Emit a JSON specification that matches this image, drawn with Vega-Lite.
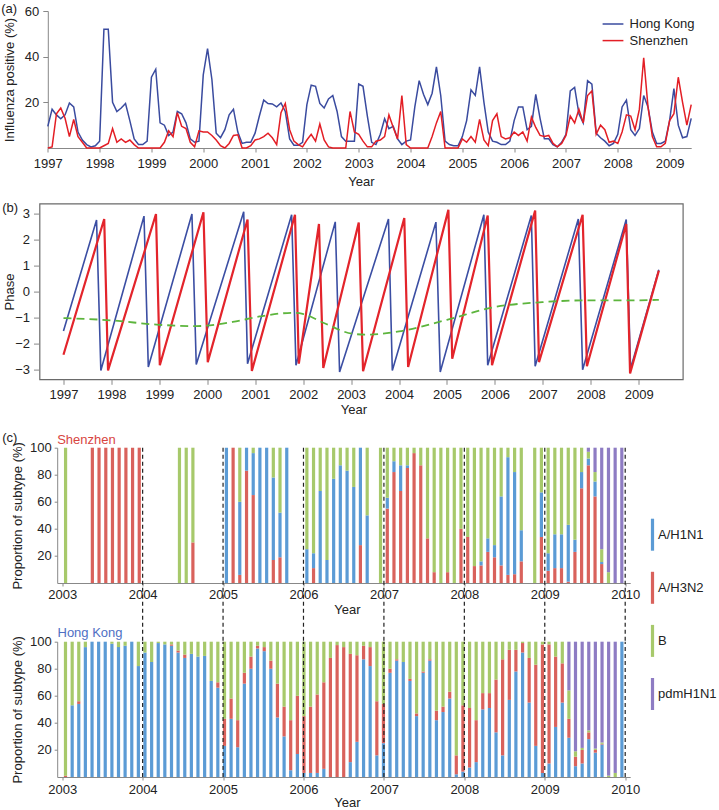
{
"$schema": "https://vega.github.io/schema/vega-lite/v6.json",
"padding": {"left": 0.5, "top": 3, "right": 0, "bottom": 0},
"config": {
  "font": "Liberation Sans",
  "view": {"stroke": null},
  "axis": {"grid": false, "labelOverlap": false, "labelFontSize": 13, "titleFontSize": 13, "titleFontWeight": "normal", "labelColor": "#222", "titleColor": "#222", "domainColor": "#888", "tickColor": "#888", "labelFont": "Liberation Sans", "titleFont": "Liberation Sans"},
  "legend": {"labelFontSize": 13, "labelColor": "#222", "labelFont": "Liberation Sans"},
  "title": {"fontSize": 13, "fontWeight": "normal", "font": "Liberation Sans", "color": "#222"}
},
"datasets": {
  "pos": [
    {"t":1997,"Hong Kong":9.5,"Shenzhen":0},{"t":1997.083,"Hong Kong":17,"Shenzhen":0.5},{"t":1997.167,"Hong Kong":14.5,"Shenzhen":15},{"t":1997.25,"Hong Kong":12.8,"Shenzhen":17.5},{"t":1997.333,"Hong Kong":14.5,"Shenzhen":13},{"t":1997.417,"Hong Kong":19.7,"Shenzhen":5},{"t":1997.5,"Hong Kong":18,"Shenzhen":12.5},{"t":1997.583,"Hong Kong":7,"Shenzhen":5},{"t":1997.667,"Hong Kong":3.5,"Shenzhen":2.5},{"t":1997.75,"Hong Kong":1.5,"Shenzhen":0},{"t":1997.833,"Hong Kong":0.5,"Shenzhen":0},{"t":1997.917,"Hong Kong":1,"Shenzhen":0},
    {"t":1998,"Hong Kong":3,"Shenzhen":0},{"t":1998.083,"Hong Kong":52,"Shenzhen":1},{"t":1998.167,"Hong Kong":52,"Shenzhen":2},{"t":1998.25,"Hong Kong":20,"Shenzhen":8.5},{"t":1998.333,"Hong Kong":16,"Shenzhen":2.5},{"t":1998.417,"Hong Kong":17.5,"Shenzhen":4},{"t":1998.5,"Hong Kong":19.5,"Shenzhen":2.5},{"t":1998.583,"Hong Kong":12,"Shenzhen":3.5},{"t":1998.667,"Hong Kong":4,"Shenzhen":1.5},{"t":1998.75,"Hong Kong":1.5,"Shenzhen":0},{"t":1998.833,"Hong Kong":1.5,"Shenzhen":0},{"t":1998.917,"Hong Kong":3,"Shenzhen":0},
    {"t":1999,"Hong Kong":31,"Shenzhen":0},{"t":1999.083,"Hong Kong":34.5,"Shenzhen":0},{"t":1999.167,"Hong Kong":11,"Shenzhen":0},{"t":1999.25,"Hong Kong":10,"Shenzhen":2.5},{"t":1999.333,"Hong Kong":5.5,"Shenzhen":7.5},{"t":1999.417,"Hong Kong":7,"Shenzhen":5},{"t":1999.5,"Hong Kong":16,"Shenzhen":15.5},{"t":1999.583,"Hong Kong":15,"Shenzhen":9.5},{"t":1999.667,"Hong Kong":11,"Shenzhen":8.5},{"t":1999.75,"Hong Kong":4,"Shenzhen":2.5},{"t":1999.833,"Hong Kong":2.5,"Shenzhen":0.5},{"t":1999.917,"Hong Kong":3,"Shenzhen":7.5},
    {"t":2000,"Hong Kong":32,"Shenzhen":7},{"t":2000.083,"Hong Kong":43.5,"Shenzhen":7},{"t":2000.167,"Hong Kong":30,"Shenzhen":5.5},{"t":2000.25,"Hong Kong":6.5,"Shenzhen":3.5},{"t":2000.333,"Hong Kong":4.5,"Shenzhen":1},{"t":2000.417,"Hong Kong":8,"Shenzhen":0},{"t":2000.5,"Hong Kong":14.5,"Shenzhen":2},{"t":2000.583,"Hong Kong":17,"Shenzhen":5.5},{"t":2000.667,"Hong Kong":7,"Shenzhen":5.8},{"t":2000.75,"Hong Kong":2,"Shenzhen":0},{"t":2000.833,"Hong Kong":2.5,"Shenzhen":0},{"t":2000.917,"Hong Kong":2.5,"Shenzhen":1},
    {"t":2001,"Hong Kong":6.5,"Shenzhen":3.5},{"t":2001.083,"Hong Kong":14,"Shenzhen":4},{"t":2001.167,"Hong Kong":21,"Shenzhen":5},{"t":2001.25,"Hong Kong":19.5,"Shenzhen":6.5},{"t":2001.333,"Hong Kong":19.3,"Shenzhen":4.5},{"t":2001.417,"Hong Kong":18,"Shenzhen":1.5},{"t":2001.5,"Hong Kong":19.7,"Shenzhen":15.5},{"t":2001.583,"Hong Kong":16,"Shenzhen":19.5},{"t":2001.667,"Hong Kong":4,"Shenzhen":8},{"t":2001.75,"Hong Kong":1.2,"Shenzhen":3},{"t":2001.833,"Hong Kong":1.2,"Shenzhen":1.5},{"t":2001.917,"Hong Kong":2.5,"Shenzhen":0.5},
    {"t":2002,"Hong Kong":19,"Shenzhen":3.5},{"t":2002.083,"Hong Kong":27.5,"Shenzhen":6},{"t":2002.167,"Hong Kong":27,"Shenzhen":3},{"t":2002.25,"Hong Kong":19.5,"Shenzhen":10.5},{"t":2002.333,"Hong Kong":17.5,"Shenzhen":3.5},{"t":2002.417,"Hong Kong":21.5,"Shenzhen":0.5},{"t":2002.5,"Hong Kong":23,"Shenzhen":0},{"t":2002.583,"Hong Kong":16,"Shenzhen":0},{"t":2002.667,"Hong Kong":5,"Shenzhen":0},{"t":2002.75,"Hong Kong":3,"Shenzhen":0},{"t":2002.833,"Hong Kong":3,"Shenzhen":16},{"t":2002.917,"Hong Kong":3,"Shenzhen":7},
    {"t":2003,"Hong Kong":28,"Shenzhen":6},{"t":2003.083,"Hong Kong":27,"Shenzhen":3},{"t":2003.167,"Hong Kong":14,"Shenzhen":0.5},{"t":2003.25,"Hong Kong":2.5,"Shenzhen":0.5},{"t":2003.333,"Hong Kong":1.5,"Shenzhen":3},{"t":2003.417,"Hong Kong":6,"Shenzhen":3.5},{"t":2003.5,"Hong Kong":12.8,"Shenzhen":5},{"t":2003.583,"Hong Kong":8.5,"Shenzhen":14.5},{"t":2003.667,"Hong Kong":9.5,"Shenzhen":9},{"t":2003.75,"Hong Kong":4,"Shenzhen":4},{"t":2003.833,"Hong Kong":1.5,"Shenzhen":23},{"t":2003.917,"Hong Kong":3,"Shenzhen":1.5},
    {"t":2004,"Hong Kong":3.5,"Shenzhen":0},{"t":2004.083,"Hong Kong":18,"Shenzhen":0},{"t":2004.167,"Hong Kong":29.5,"Shenzhen":0},{"t":2004.25,"Hong Kong":23.5,"Shenzhen":0},{"t":2004.333,"Hong Kong":19,"Shenzhen":0},{"t":2004.417,"Hong Kong":24,"Shenzhen":5},{"t":2004.5,"Hong Kong":35.5,"Shenzhen":11},{"t":2004.583,"Hong Kong":23,"Shenzhen":16},{"t":2004.667,"Hong Kong":3,"Shenzhen":0},{"t":2004.75,"Hong Kong":1.5,"Shenzhen":0},{"t":2004.833,"Hong Kong":1,"Shenzhen":0},{"t":2004.917,"Hong Kong":1,"Shenzhen":0},
    {"t":2005,"Hong Kong":5,"Shenzhen":4},{"t":2005.083,"Hong Kong":12,"Shenzhen":2.5},{"t":2005.167,"Hong Kong":25.5,"Shenzhen":5},{"t":2005.25,"Hong Kong":23,"Shenzhen":2.5},{"t":2005.333,"Hong Kong":35.5,"Shenzhen":12.5},{"t":2005.417,"Hong Kong":20,"Shenzhen":3.5},{"t":2005.5,"Hong Kong":7,"Shenzhen":1},{"t":2005.583,"Hong Kong":3,"Shenzhen":12},{"t":2005.667,"Hong Kong":2.5,"Shenzhen":15},{"t":2005.75,"Hong Kong":1.5,"Shenzhen":5},{"t":2005.833,"Hong Kong":1.5,"Shenzhen":4},{"t":2005.917,"Hong Kong":3,"Shenzhen":4.5},
    {"t":2006,"Hong Kong":12,"Shenzhen":7},{"t":2006.083,"Hong Kong":18,"Shenzhen":5.5},{"t":2006.167,"Hong Kong":18,"Shenzhen":7},{"t":2006.25,"Hong Kong":8,"Shenzhen":3},{"t":2006.333,"Hong Kong":9.5,"Shenzhen":13.5},{"t":2006.417,"Hong Kong":23.5,"Shenzhen":9},{"t":2006.5,"Hong Kong":13,"Shenzhen":5.5},{"t":2006.583,"Hong Kong":4,"Shenzhen":5},{"t":2006.667,"Hong Kong":4,"Shenzhen":5.5},{"t":2006.75,"Hong Kong":1.5,"Shenzhen":2},{"t":2006.833,"Hong Kong":0.5,"Shenzhen":0.5},{"t":2006.917,"Hong Kong":2.5,"Shenzhen":2},
    {"t":2007,"Hong Kong":6,"Shenzhen":5.5},{"t":2007.083,"Hong Kong":25,"Shenzhen":14},{"t":2007.167,"Hong Kong":26.5,"Shenzhen":11},{"t":2007.25,"Hong Kong":15,"Shenzhen":17},{"t":2007.333,"Hong Kong":11,"Shenzhen":11},{"t":2007.417,"Hong Kong":29.5,"Shenzhen":23},{"t":2007.5,"Hong Kong":28,"Shenzhen":25},{"t":2007.583,"Hong Kong":6.5,"Shenzhen":6},{"t":2007.667,"Hong Kong":4.5,"Shenzhen":10},{"t":2007.75,"Hong Kong":3,"Shenzhen":8},{"t":2007.833,"Hong Kong":1,"Shenzhen":2.5},{"t":2007.917,"Hong Kong":2,"Shenzhen":3},
    {"t":2008,"Hong Kong":6,"Shenzhen":2},{"t":2008.083,"Hong Kong":18,"Shenzhen":7},{"t":2008.167,"Hong Kong":21,"Shenzhen":14.5},{"t":2008.25,"Hong Kong":8,"Shenzhen":14},{"t":2008.333,"Hong Kong":5.5,"Shenzhen":8},{"t":2008.417,"Hong Kong":8.5,"Shenzhen":17},{"t":2008.5,"Hong Kong":23,"Shenzhen":39.5},{"t":2008.583,"Hong Kong":18,"Shenzhen":18},{"t":2008.667,"Hong Kong":7,"Shenzhen":5},{"t":2008.75,"Hong Kong":2,"Shenzhen":0.5},{"t":2008.833,"Hong Kong":2,"Shenzhen":0.5},{"t":2008.917,"Hong Kong":3,"Shenzhen":2},
    {"t":2009,"Hong Kong":12,"Shenzhen":12},{"t":2009.083,"Hong Kong":26,"Shenzhen":15},{"t":2009.167,"Hong Kong":10,"Shenzhen":31},{"t":2009.25,"Hong Kong":4.5,"Shenzhen":20},{"t":2009.333,"Hong Kong":5,"Shenzhen":10},{"t":2009.417,"Hong Kong":13,"Shenzhen":19}
  ],
  "years": [{"t":1997},{"t":1998},{"t":1999},{"t":2000},{"t":2001},{"t":2002},{"t":2003},{"t":2004},{"t":2005},{"t":2006},{"t":2007},{"t":2008},{"t":2009}],
  "yearsC": [{"t":2004},{"t":2005},{"t":2006},{"t":2007},{"t":2008},{"t":2009},{"t":2010}],
  "phk": [
    {"t":1997,"p":-1.52},{"t":1997.69,"p":2.74},{"t":1997.78,"p":-3.03},{"t":1998.68,"p":2.89},{"t":1998.77,"p":-2.9},{"t":1999.68,"p":2.97},{"t":1999.77,"p":-2.8},{"t":2000.76,"p":3.06},{"t":2000.84,"p":-2.77},{"t":2001.76,"p":2.94},{"t":2001.85,"p":-2.83},{"t":2002.67,"p":2.67},{"t":2002.76,"p":-3.09},{"t":2003.78,"p":2.78},{"t":2003.86,"p":-3.03},{"t":2004.77,"p":2.66},{"t":2004.86,"p":-3.09},{"t":2005.77,"p":2.94},{"t":2005.85,"p":-2.83},{"t":2006.76,"p":2.91},{"t":2006.84,"p":-2.87},{"t":2007.74,"p":2.78},{"t":2007.83,"p":-3.0},{"t":2008.74,"p":2.76},{"t":2008.83,"p":-2.96},{"t":2009.42,"p":0.83}
  ],
  "psz": [
    {"t":1997,"p":-2.43},{"t":1997.85,"p":2.78},{"t":1997.93,"p":-3.03},{"t":1998.93,"p":2.97},{"t":1999.01,"p":-2.83},{"t":1999.92,"p":3.04},{"t":2000.01,"p":-2.71},{"t":2000.84,"p":2.76},{"t":2000.93,"p":-3.05},{"t":2001.83,"p":2.94},{"t":2001.91,"p":-2.77},{"t":2002.33,"p":2.59},{"t":2002.42,"p":-2.94},{"t":2003.16,"p":2.64},{"t":2003.25,"p":-3.06},{"t":2004.11,"p":2.82},{"t":2004.19,"p":-2.9},{"t":2005.03,"p":3.13},{"t":2005.11,"p":-2.58},{"t":2005.85,"p":2.91},{"t":2005.94,"p":-2.83},{"t":2006.84,"p":3.1},{"t":2006.92,"p":-2.71},{"t":2007.83,"p":2.94},{"t":2007.92,"p":-2.87},{"t":2008.74,"p":2.59},{"t":2008.82,"p":-3.15},{"t":2009.42,"p":0.8}
  ],
  "ptrend": [
    {"t":1997,"p":-1.02},{"t":1998,"p":-1.11},{"t":1999,"p":-1.28},{"t":1999.77,"p":-1.33},{"t":2000.53,"p":-1.17},{"t":2001.09,"p":-0.96},{"t":2001.78,"p":-0.82},{"t":2001.99,"p":-0.86},{"t":2002.47,"p":-1.24},{"t":2003.02,"p":-1.62},{"t":2003.33,"p":-1.66},{"t":2004,"p":-1.53},{"t":2005,"p":-1.09},{"t":2005.99,"p":-0.6},{"t":2006.99,"p":-0.41},{"t":2007.97,"p":-0.34},{"t":2008.97,"p":-0.34},{"t":2009.42,"p":-0.32}
  ],
  "sz": [
    {"t":2003.042,"c_B":100},
    {"t":2003.375,"a_H3N2":100},{"t":2003.458,"a_H3N2":100},{"t":2003.542,"a_H3N2":100},{"t":2003.625,"a_H3N2":100},{"t":2003.708,"a_H3N2":100},{"t":2003.792,"a_H3N2":100},{"t":2003.875,"a_H3N2":100},{"t":2003.958,"a_H3N2":100},
    {"t":2004.458,"c_B":100},{"t":2004.542,"c_B":100},{"t":2004.625,"a_H3N2":30,"c_B":70},
    {"t":2005.042,"b_H1N1":100},{"t":2005.125,"a_H3N2":100},{"t":2005.208,"a_H3N2":6,"b_H1N1":54,"c_B":40},{"t":2005.292,"a_H3N2":83,"b_H1N1":17},{"t":2005.375,"a_H3N2":65,"b_H1N1":31,"c_B":4},{"t":2005.458,"b_H1N1":100},{"t":2005.542,"b_H1N1":100},{"t":2005.625,"a_H3N2":17,"b_H1N1":61,"c_B":22},{"t":2005.708,"a_H3N2":19,"b_H1N1":33,"c_B":48},{"t":2005.792,"b_H1N1":100},
    {"t":2006.042,"b_H1N1":25,"c_B":75},{"t":2006.125,"a_H3N2":11,"b_H1N1":11,"c_B":78},{"t":2006.208,"b_H1N1":68,"c_B":32},{"t":2006.292,"b_H1N1":17,"c_B":83},{"t":2006.375,"b_H1N1":77,"c_B":23},{"t":2006.458,"b_H1N1":87,"c_B":13},{"t":2006.542,"b_H1N1":83,"c_B":17},{"t":2006.625,"b_H1N1":71,"c_B":29},{"t":2006.708,"a_H3N2":28,"b_H1N1":72},{"t":2006.792,"b_H1N1":50,"c_B":50},{"t":2006.958,"c_B":100},
    {"t":2007.042,"a_H3N2":55,"b_H1N1":8,"c_B":37},{"t":2007.125,"a_H3N2":82,"b_H1N1":8,"c_B":10},{"t":2007.208,"a_H3N2":68,"b_H1N1":19,"c_B":13},{"t":2007.292,"a_H3N2":85,"b_H1N1":2,"c_B":13},{"t":2007.375,"a_H3N2":96,"c_B":4},{"t":2007.458,"a_H3N2":87,"c_B":13},{"t":2007.542,"a_H3N2":33,"c_B":67},{"t":2007.625,"a_H3N2":8,"c_B":92},{"t":2007.708,"c_B":100},{"t":2007.792,"a_H3N2":8,"c_B":92},{"t":2007.875,"c_B":100},{"t":2007.958,"a_H3N2":40,"c_B":60},
    {"t":2008.042,"a_H3N2":34,"c_B":66},{"t":2008.125,"a_H3N2":12.5,"c_B":87.5},{"t":2008.208,"a_H3N2":13,"b_H1N1":3,"c_B":84},{"t":2008.292,"a_H3N2":23,"b_H1N1":10,"c_B":67},{"t":2008.375,"a_H3N2":19,"b_H1N1":9,"c_B":72},{"t":2008.458,"a_H3N2":13,"b_H1N1":51,"c_B":36},{"t":2008.542,"a_H3N2":6,"b_H1N1":87,"c_B":7},{"t":2008.625,"a_H3N2":6.5,"b_H1N1":75.5,"c_B":18},{"t":2008.708,"a_H3N2":16,"b_H1N1":23,"c_B":61},{"t":2008.875,"c_B":100},{"t":2008.958,"a_H3N2":34,"b_H1N1":33,"c_B":33},
    {"t":2009.042,"a_H3N2":9,"b_H1N1":13,"c_B":78},{"t":2009.125,"a_H3N2":11,"b_H1N1":25,"c_B":64},{"t":2009.208,"a_H3N2":11,"b_H1N1":25,"c_B":64},{"t":2009.292,"a_H3N2":1,"b_H1N1":42,"c_B":57},{"t":2009.375,"a_H3N2":23,"b_H1N1":9,"c_B":68},{"t":2009.458,"a_H3N2":70,"b_H1N1":12,"c_B":18},{"t":2009.542,"a_H3N2":87,"b_H1N1":5,"c_B":5,"d_pdmH1N1":3},{"t":2009.625,"a_H3N2":64,"b_H1N1":11,"c_B":7,"d_pdmH1N1":18},{"t":2009.708,"a_H3N2":14,"b_H1N1":1.5,"c_B":9.5,"d_pdmH1N1":75},{"t":2009.792,"c_B":8,"d_pdmH1N1":92},{"t":2009.875,"d_pdmH1N1":100},{"t":2009.958,"d_pdmH1N1":100}
  ],
  "hk": [
    {"t":2003.041,"A/H3N2":1,"B":99},{"t":2003.124,"A/H1N1":53,"B":47},{"t":2003.206,"A/H1N1":54,"A/H3N2":2,"B":44},{"t":2003.288,"A/H1N1":96,"B":4},{"t":2003.371,"A/H1N1":100},{"t":2003.453,"A/H1N1":100},{"t":2003.535,"A/H1N1":100},{"t":2003.618,"A/H1N1":98.5,"B":1.5},{"t":2003.7,"A/H1N1":96,"B":4},{"t":2003.782,"A/H1N1":97,"B":3},{"t":2003.865,"A/H1N1":100},{"t":2003.947,"A/H1N1":82,"B":18},
    {"t":2004.029,"A/H1N1":92,"B":8},{"t":2004.112,"A/H1N1":85,"B":15},{"t":2004.194,"A/H1N1":99,"B":1},{"t":2004.276,"A/H1N1":98,"B":2},{"t":2004.359,"A/H1N1":97,"A/H3N2":1,"B":2},{"t":2004.441,"A/H1N1":92,"A/H3N2":1.5,"B":6.5},{"t":2004.524,"A/H1N1":88,"A/H3N2":2.5,"B":9.5},{"t":2004.606,"A/H1N1":91,"B":9},{"t":2004.688,"A/H1N1":89,"B":11},{"t":2004.771,"A/H1N1":89.5,"B":10.5},{"t":2004.853,"A/H1N1":71,"B":29},{"t":2004.935,"A/H1N1":66,"A/H3N2":4,"B":30},
    {"t":2005.018,"A/H1N1":23,"A/H3N2":20,"B":57},{"t":2005.1,"A/H1N1":43,"A/H3N2":15,"B":42},{"t":2005.182,"A/H1N1":22,"A/H3N2":20,"B":58},{"t":2005.265,"A/H1N1":69,"A/H3N2":8,"B":23},{"t":2005.347,"A/H1N1":80,"A/H3N2":9,"B":11},{"t":2005.429,"A/H1N1":95,"A/H3N2":2,"B":3},{"t":2005.512,"A/H1N1":93,"A/H3N2":3,"B":4},{"t":2005.594,"A/H1N1":80,"A/H3N2":6,"B":14},{"t":2005.676,"A/H1N1":44,"A/H3N2":25,"B":31},{"t":2005.759,"A/H1N1":30,"A/H3N2":22,"B":48},{"t":2005.841,"A/H1N1":5,"A/H3N2":37,"B":58},{"t":2005.924,"A/H1N1":17,"A/H3N2":43,"B":40},
    {"t":2006.006,"A/H1N1":3,"A/H3N2":42,"B":55},{"t":2006.088,"A/H1N1":3,"A/H3N2":49,"B":48},{"t":2006.171,"A/H1N1":3,"A/H3N2":58,"B":39},{"t":2006.253,"A/H1N1":6,"A/H3N2":64,"B":30},{"t":2006.335,"A/H3N2":88,"B":12},{"t":2006.418,"A/H3N2":97.5,"B":2.5},{"t":2006.5,"A/H3N2":96,"B":4},{"t":2006.582,"A/H1N1":11,"A/H3N2":80,"B":9},{"t":2006.665,"A/H1N1":26,"A/H3N2":64,"B":10},{"t":2006.747,"A/H1N1":87,"A/H3N2":10,"B":3},{"t":2006.829,"A/H1N1":82,"A/H3N2":14,"B":4},{"t":2006.912,"A/H1N1":16,"A/H3N2":40,"B":44},
    {"t":2006.994,"A/H1N1":25,"A/H3N2":29,"B":46},{"t":2007.076,"A/H1N1":77,"A/H3N2":3,"B":20},{"t":2007.159,"A/H1N1":86,"A/H3N2":1,"B":13},{"t":2007.241,"A/H1N1":85,"B":15},{"t":2007.324,"A/H1N1":71,"A/H3N2":1.5,"B":27.5},{"t":2007.406,"A/H1N1":45,"A/H3N2":2,"B":53},{"t":2007.488,"A/H1N1":77,"A/H3N2":1,"B":22},{"t":2007.571,"A/H1N1":86,"A/H3N2":1,"B":13},{"t":2007.653,"A/H1N1":42,"A/H3N2":7,"B":51},{"t":2007.735,"A/H1N1":48,"A/H3N2":4,"B":48},{"t":2007.818,"A/H1N1":58,"A/H3N2":5,"B":37},{"t":2007.9,"A/H1N1":2,"A/H3N2":14,"B":84},
    {"t":2007.982,"A/H1N1":4,"A/H3N2":49,"B":47},{"t":2008.065,"A/H1N1":7,"A/H3N2":44,"B":49},{"t":2008.147,"A/H1N1":11,"A/H3N2":31,"B":58},{"t":2008.229,"A/H1N1":50,"A/H3N2":12,"B":38},{"t":2008.312,"A/H1N1":51,"A/H3N2":11,"B":38},{"t":2008.394,"A/H1N1":33,"A/H3N2":39,"B":28},{"t":2008.476,"A/H1N1":16,"A/H3N2":71,"B":13},{"t":2008.559,"A/H1N1":57,"A/H3N2":37,"B":6},{"t":2008.641,"A/H1N1":78,"A/H3N2":16,"B":6},{"t":2008.724,"A/H1N1":92,"A/H3N2":7,"B":1},{"t":2008.806,"A/H1N1":55,"A/H3N2":33,"B":12},{"t":2008.888,"A/H1N1":23,"A/H3N2":60,"B":17},
    {"t":2008.971,"A/H1N1":3,"A/H3N2":95,"B":2},{"t":2009.053,"A/H1N1":10,"A/H3N2":88,"B":2},{"t":2009.135,"A/H1N1":37,"A/H3N2":52,"B":11},{"t":2009.218,"A/H1N1":55,"A/H3N2":29,"B":16},{"t":2009.3,"A/H1N1":29,"A/H3N2":14,"B":21,"pdmH1N1":36},{"t":2009.382,"A/H1N1":8,"A/H3N2":7,"B":4,"pdmH1N1":81},{"t":2009.465,"A/H1N1":10,"A/H3N2":10,"B":1.5,"pdmH1N1":78.5},{"t":2009.547,"A/H1N1":28,"A/H3N2":5,"B":1.5,"pdmH1N1":65.5},{"t":2009.629,"A/H1N1":18,"A/H3N2":2,"B":1,"pdmH1N1":79},{"t":2009.712,"A/H1N1":24,"A/H3N2":0.5,"B":1,"pdmH1N1":74.5},{"t":2009.794,"B":1,"pdmH1N1":99},{"t":2009.876,"B":3,"pdmH1N1":97},{"t":2009.959,"A/H1N1":100}
  ]
},
"spacing": 14.7,
"resolve": {"scale": {"color": "independent"}, "legend": {"color": "independent"}},
"vconcat": [
  {
    "bounds": "flush",
    "spacing": 55.6,
    "resolve": {"scale": {"color": "independent"}, "legend": {"color": "independent"}},
    "vconcat": [
      {
        "width": 651.7,
        "height": 137,
        "title": {"text": "(a)", "anchor": "start", "frame": "group", "orient": "top", "dx": -38.3, "dy": 21.1, "offset": 0, "baseline": "alphabetic"},
        "data": {"name": "pos"},
        "transform": [{"fold": ["Hong Kong", "Shenzhen"], "as": ["city", "pct"]}],
        "mark": {"type": "line", "strokeWidth": 1.5},
        "encoding": {
          "x": {"field": "t", "type": "quantitative", "scale": {"domain": [1997, 2009.4167], "range": [8.3, 651.7], "nice": false, "zero": false},
                "axis": {"values": [1997,1998,1999,2000,2001,2002,2003,2004,2005,2006,2007,2008,2009], "format": "d", "title": "Year", "tickSize": 4, "labelPadding": 5, "titlePadding": 5, "titleX": 321.5, "labelFlush": false, "labelOverlap": false}},
          "y": {"field": "pct", "type": "quantitative", "scale": {"domain": [0, 60], "nice": false},
                "axis": {"values": [20, 40, 60], "title": "Influenza positive (%)", "offset": -8.3, "tickSize": 5, "labelPadding": 4, "titlePadding": 7.7, "labelOverlap": false}},
          "color": {"field": "city", "type": "nominal", "scale": {"domain": ["Hong Kong", "Shenzhen"], "range": ["#3a4b9f", "#e31e25"]},
                    "legend": {"orient": "none", "legendX": 564.5, "legendY": 4, "title": null, "symbolType": "M-1.3,0H1.3", "symbolSize": 256, "symbolStrokeWidth": 1.5, "labelOffset": 7.5, "rowPadding": 0.6, "padding": 0}}
        }
      },
      {
        "width": 643.3,
        "height": 175.7,
        "view": {"stroke": "#6a6a6a", "strokeWidth": 1.2},
        "title": {"text": "(b)", "anchor": "start", "frame": "group", "orient": "top", "dx": -37.3, "dy": 21.1, "offset": 0, "baseline": "alphabetic"},
        "encoding": {
          "x": {"field": "t", "type": "quantitative", "scale": {"domain": [1996.5, 2009.92], "nice": false, "zero": false},
                "axis": {"values": [1997,1998,1999,2000,2001,2002,2003,2004,2005,2006,2007,2008,2009], "format": "d", "title": "Year", "domain": false, "tickSize": 5, "labelPadding": 4, "titlePadding": 2, "titleX": 314, "labelFlush": false, "labelOverlap": false}},
          "y": {"field": "p", "type": "quantitative", "scale": {"domain": [-3.37, 3.37], "nice": false, "zero": false},
                "axis": {"values": [-3,-2,-1,0,1,2,3], "title": "Phase", "domain": false, "tickSize": 6, "labelPadding": 4, "titlePadding": -1.5, "labelOverlap": false}}
        },
        "layer": [
          {"data": {"name": "years"}, "mark": {"type": "rule", "color": "#b5b5b5", "strokeWidth": 1.4, "strokeDash": [6, 4]},
           "encoding": {"y": {"datum": -3.37, "type": "quantitative"}, "y2": {"datum": 3.37}}},
          {"data": {"values": [{}]}, "mark": {"type": "rule", "color": "#b5b5b5", "strokeWidth": 1.4, "strokeDash": [6, 4]},
           "encoding": {"x": {"datum": 1997, "type": "quantitative"}, "x2": {"datum": 2009.42}, "y": {"datum": 0, "type": "quantitative"}}},
          {"data": {"name": "phk"}, "mark": {"type": "line", "color": "#3b4ea3", "strokeWidth": 1.6}, "encoding": {}},
          {"data": {"name": "psz"}, "mark": {"type": "line", "color": "#e3242b", "strokeWidth": 2.2}, "encoding": {}},
          {"data": {"name": "ptrend"}, "mark": {"type": "line", "color": "#5db53d", "strokeWidth": 1.8, "strokeDash": [8, 5], "interpolate": "monotone"}, "encoding": {}}
        ]
      }
    ]
  },
  {
    "bounds": "flush",
    "spacing": 58,
    "title": {"text": "(c)", "anchor": "start", "frame": "group", "orient": "top", "dx": -37.3, "dy": 20.9, "offset": 0, "baseline": "alphabetic"},
    "resolve": {"scale": {"color": "independent"}, "legend": {"color": "independent"}},
    "vconcat": [
      {
        "width": 590.7,
        "height": 135.3,
        "title": {"text": "Shenzhen", "color": "#d8453f", "anchor": "start", "frame": "group", "orient": "top", "dx": 17.7, "dy": 15.3, "offset": 0, "baseline": "alphabetic"},
        "layer": [
          {
            "data": {"name": "sz"},
            "transform": [{"fold": ["a_H3N2", "b_H1N1", "c_B", "d_pdmH1N1"], "as": ["k", "v"]}, {"filter": "datum.v > 0"}],
            "mark": {"type": "bar", "width": 3.2},
            "encoding": {
              "x": {"field": "t", "type": "quantitative", "scale": {"domain": [2003, 2010], "range": [17.7, 590.7], "nice": false, "zero": false},
                    "axis": {"values": [2003,2004,2005,2006,2007,2008,2009,2010], "format": "d", "title": "Year", "tickSize": 3, "labelPadding": 2, "titlePadding": 2, "titleX": 307.5, "labelFlush": false, "labelOverlap": false}},
              "y": {"field": "v", "type": "quantitative", "stack": "zero", "scale": {"domain": [0, 100], "nice": false},
                    "axis": {"values": [20, 40, 60, 80, 100], "title": "Proportion of subtype (%)", "offset": -17.7, "tickSize": 3, "labelPadding": 3, "titlePadding": 5.4, "labelOverlap": false, "labelSeparation": -30}},
              "color": {"field": "k", "type": "nominal", "scale": {"domain": ["a_H3N2", "b_H1N1", "c_B", "d_pdmH1N1"], "range": ["#d9625c", "#5b9bd5", "#a7c96b", "#8e7cc3"]}, "legend": null},
              "order": {"field": "k", "type": "ordinal", "sort": "ascending"}
            }
          },
          {
            "data": {"name": "yearsC"},
            "mark": {"type": "rule", "color": "#222", "strokeWidth": 1.2, "strokeDash": [4, 3]},
            "encoding": {
              "x": {"field": "t", "type": "quantitative", "scale": {"domain": [2003, 2010], "range": [17.7, 590.7], "nice": false, "zero": false},
                    "axis": {"values": [2003,2004,2005,2006,2007,2008,2009,2010], "format": "d", "title": "Year", "tickSize": 3, "labelPadding": 2, "titlePadding": 2, "titleX": 307.5, "labelFlush": false, "labelOverlap": false}},
              "y": {"datum": 100, "type": "quantitative", "scale": {"domain": [0, 100], "nice": false},
                    "axis": {"values": [20, 40, 60, 80, 100], "title": "Proportion of subtype (%)", "offset": -17.7, "tickSize": 3, "labelPadding": 3, "titlePadding": 5.4, "labelOverlap": false, "labelSeparation": -30}},
              "y2": {"datum": -44.1}
            }
          }
        ]
      },
      {
        "width": 590.7,
        "height": 135.3,
        "title": {"text": "Hong Kong", "color": "#4f6fc4", "anchor": "start", "frame": "group", "orient": "top", "dx": 18, "dy": 131.3, "offset": 0, "baseline": "alphabetic"},
        "layer": [
          {
            "data": {"name": "hk"},
            "transform": [{"fold": ["A/H1N1", "A/H3N2", "B", "pdmH1N1"], "as": ["k", "v"]}, {"filter": "datum.v > 0"}],
            "mark": {"type": "bar", "width": 3.2},
            "encoding": {
              "x": {"field": "t", "type": "quantitative", "scale": {"domain": [2003, 2010], "range": [17.7, 590.7], "nice": false, "zero": false},
                    "axis": {"values": [2003,2004,2005,2006,2007,2008,2009,2010], "format": "d", "title": "Year", "tickSize": 3, "labelPadding": 3, "titlePadding": 0, "titleX": 307.5, "labelFlush": false, "labelOverlap": false}},
              "y": {"field": "v", "type": "quantitative", "stack": "zero", "scale": {"domain": [0, 100], "nice": false},
                    "axis": {"values": [20, 40, 60, 80, 100], "title": "Proportion of subtype (%)", "offset": -17.7, "tickSize": 3, "labelPadding": 3, "titlePadding": 5.4, "labelOverlap": false, "labelSeparation": -30}},
              "color": {"field": "k", "type": "nominal", "scale": {"domain": ["A/H1N1", "A/H3N2", "B", "pdmH1N1"], "range": ["#5b9bd5", "#d9625c", "#a7c96b", "#8e7cc3"]},
                        "legend": {"orient": "none", "legendX": 597, "legendY": -123, "title": null, "symbolType": "M-0.1,-1H0.1V1H-0.1Z", "symbolSize": 1024, "symbolStrokeWidth": 0, "symbolOpacity": 1, "labelOffset": -10.5, "rowPadding": 21.1, "padding": 0}},
              "order": {"field": "k", "type": "ordinal", "sort": "ascending"}
            }
          },
          {
            "data": {"name": "yearsC"},
            "mark": {"type": "rule", "color": "#222", "strokeWidth": 1.2, "strokeDash": [4, 3]},
            "encoding": {
              "x": {"field": "t", "type": "quantitative", "scale": {"domain": [2003, 2010], "range": [17.7, 590.7], "nice": false, "zero": false},
                    "axis": {"values": [2003,2004,2005,2006,2007,2008,2009,2010], "format": "d", "title": "Year", "tickSize": 3, "labelPadding": 3, "titlePadding": 0, "titleX": 307.5, "labelFlush": false, "labelOverlap": false}},
              "y": {"datum": 0, "type": "quantitative", "scale": {"domain": [0, 100], "nice": false},
                    "axis": {"values": [20, 40, 60, 80, 100], "title": "Proportion of subtype (%)", "offset": -17.7, "tickSize": 3, "labelPadding": 3, "titlePadding": 5.4, "labelOverlap": false, "labelSeparation": -30}},
              "y2": {"datum": 100}
            }
          }
        ]
      }
    ]
  }
]
}
